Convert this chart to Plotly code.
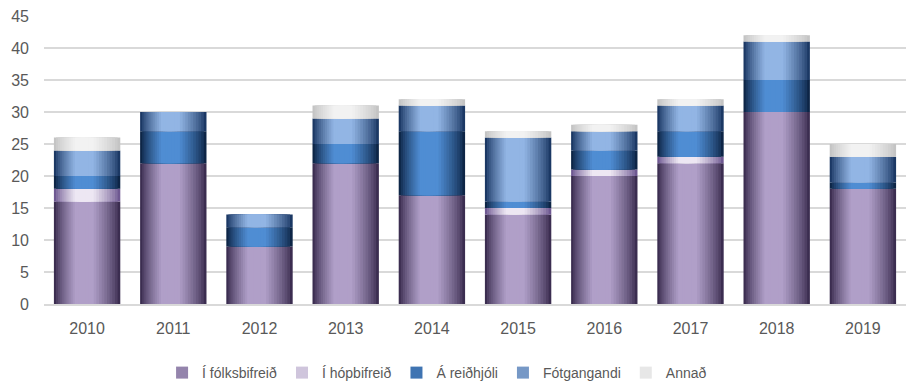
import plotly.graph_objects as go
import numpy as np

years = ["2010", "2011", "2012", "2013", "2014", "2015", "2016", "2017", "2018", "2019"]
folksbifreid = [16, 22, 9, 22, 17, 14, 20, 22, 30, 18]
hopbifreid = [2, 0, 0, 0, 0, 1, 1, 1, 0, 0]
reidhjoli = [2, 5, 3, 3, 10, 1, 3, 4, 5, 1]
fotgangandi = [4, 3, 2, 4, 4, 10, 3, 4, 6, 4]
annad = [2, 0, 0, 2, 1, 1, 1, 1, 1, 2]

series_names = ["Í fólksbifreið", "Í hópbifreið", "Á reiðhjóli", "Fótgangandi", "Annað"]
series_values = [folksbifreid, hopbifreid, reidhjoli, fotgangandi, annad]
# (edge colour, centre colour) for the horizontal shading of each series
series_colors = [
    ("#3b2d50", "#b09fc8"),
    ("#6e5891", "#ede7f3"),
    ("#0d2546", "#4f8dd3"),
    ("#1b3864", "#92b5e4"),
    ("#c4c4c4", "#f2f2f2"),
]


def hex_rgb(h):
    h = h.lstrip("#")
    return np.array([int(h[i:i + 2], 16) for i in (0, 2, 4)], dtype=float)


def mix(a, b, t):
    c = hex_rgb(a) * (1 - t) + hex_rgb(b) * t
    return "rgb(%d,%d,%d)" % tuple(np.round(c).astype(int))


BAR_W = 0.77
N_LAYERS = 14
CENTER = -BAR_W / 2 + 0.44 * BAR_W  # lightest point, slightly left of middle

fig = go.Figure()
bases = np.zeros(len(years))
for name, vals, (edge, centre) in zip(series_names, series_values, series_colors):
    vals = np.array(vals, dtype=float)
    for k in range(N_LAYERS):
        s = k / N_LAYERS
        left = -BAR_W / 2 + (CENTER + BAR_W / 2) * s
        right = BAR_W / 2 - (BAR_W / 2 - CENTER) * s
        t = min(1.0, s / 0.7) ** 0.8
        color = mix(edge, centre, t)
        show = k == N_LAYERS // 2
        fig.add_trace(go.Bar(
            x=years, y=vals, base=bases,
            offset=left, width=right - left,
            marker=dict(color=color, line=dict(width=0)),
            name=name, legendgroup=name, showlegend=show,
            hoverinfo="skip" if not show else None,
        ))
    bases = bases + vals

fig.update_layout(
    width=906, height=389,
    margin=dict(l=44, r=0, t=16, b=84),
    paper_bgcolor="white", plot_bgcolor="white",
    barmode="overlay",
    font=dict(family="Liberation Sans, Arial", size=15, color="#595959"),
    xaxis=dict(type="category", showgrid=False, showline=True, linecolor="#d9d9d9",
               linewidth=1.5, ticks="", tickfont=dict(size=16, color="#595959"),
               ticklabelstandoff=9),
    yaxis=dict(range=[0, 45], dtick=5, showgrid=True, gridcolor="#d9d9d9", gridwidth=1.5,
               zeroline=False, ticks="", tickfont=dict(size=16, color="#595959"),
               ticklabelstandoff=14),
    legend=dict(orientation="h", x=0.456, xanchor="center", y=-0.238, yanchor="middle",
                font=dict(size=14, color="#595959"), itemwidth=30, traceorder="normal",
                tracegroupgap=0),
)

fig.write_html("out.html")
